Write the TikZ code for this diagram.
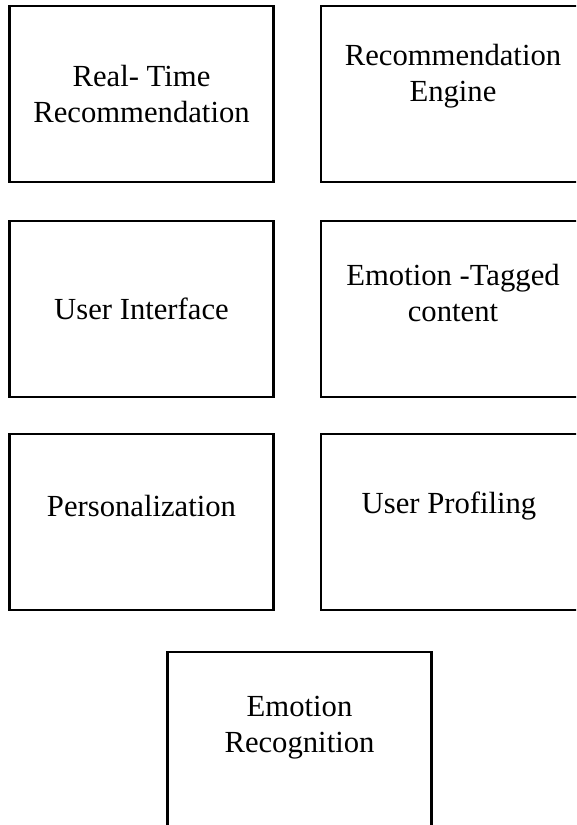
\documentclass[tikz,border=0pt]{standalone}
\usepackage{fontspec}
\setmainfont{Liberation Serif}
\begin{document}
\begin{tikzpicture}[
            x=0.75pt, y=-0.75pt,
            block/.style={draw, line width=2pt, minimum width=198pt, minimum height=132pt, inner sep=0pt},
            caption/.style={align=center, inner sep=0pt, font=\fontsize{23}{27}\selectfont}
          ]
          \useasboundingbox (0,0) rectangle (576,825);
          \clip (0,0) rectangle (576,825);

          % Top row
          \node[block] (rtbox) at (141.5,94) {};
          \node[caption] (rt) at (141.5,94) {Real- Time\\Recommendation};
          \node[block] (engbox) at (453,94) {};
          \node[caption] (eng) at (453,76) {Recommendation\\Engine};

          % Middle row
          \node[block] (uibox) at (141.5,309) {};
          \node[caption] (ui) at (141.5,309) {User Interface};
          \node[block] (tagbox) at (453,309) {};
          \node[caption] (tag) at (453,293) {Emotion -Tagged\\content};

          % Lower row
          \node[block] (persbox) at (141.5,522) {};
          \node[caption] (pers) at (141.5,506) {Personalization};
          \node[block] (profbox) at (453,522) {};
          \node[caption] (prof) at (449,506) {User Profiling};

          % Bottom, centred
          \node[block] (recbox) at (299.5,740) {};
          \node[caption] (rec) at (299.5,728) {Emotion\\Recognition};

        \end{tikzpicture}
\end{document}
